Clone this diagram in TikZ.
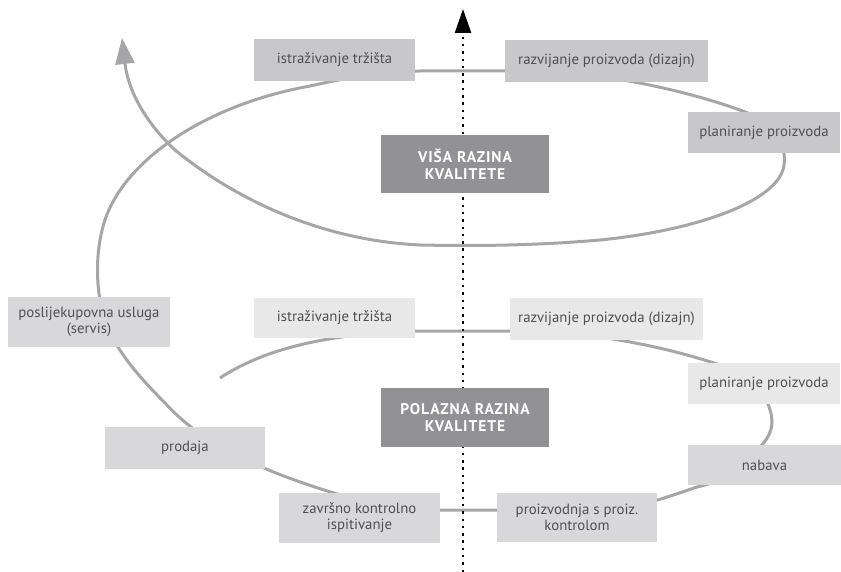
\documentclass[tikz,border=0pt]{standalone}
\usepackage{fontspec}
\setmainfont{PT Sans}
\usetikzlibrary{arrows.meta,backgrounds}

\definecolor{spiral}{HTML}{A6A6A8}
\definecolor{boxtop}{HTML}{C8C8CA}
\definecolor{boxlight}{HTML}{E8E8E9}
\definecolor{boxmid}{HTML}{D8D8DA}
\definecolor{boxdark}{HTML}{929294}
\definecolor{txt}{HTML}{505052}

\tikzset{
  stage/.style={inner sep=0pt, align=center, text=txt,
    font=\fontsize{14.8}{16}\selectfont},
  level/.style={fill=boxdark, inner sep=0pt, align=center, text=white,
    font=\fontsize{15.5}{17}\selectfont\bfseries\addfontfeature{LetterSpace=6}},
  topbox/.style={stage, fill=boxtop},
  lightbox/.style={stage, fill=boxlight},
  midbox/.style={stage, fill=boxmid},
  spiralline/.style={draw=spiral, line width=3pt},
  axisline/.style={draw=black, line width=2.4pt, dash pattern=on 2.4pt off 4.9pt}
}

\begin{document}
\begin{tikzpicture}[x=1pt, y=-1pt]
\useasboundingbox (0,0) rectangle (841,572);

% upper turn of the spiral
\node[topbox, minimum width=161pt, minimum height=42pt] (it1) at (334.5,60) {istraživanje tržišta};
\node[topbox, minimum width=203pt, minimum height=42pt] (rp1) at (606.5,61) {razvijanje proizvoda (dizajn)};
\node[topbox, minimum width=152pt, minimum height=41pt] (pp1) at (764,132.5) {planiranje proizvoda};
\node[level, minimum width=168pt, minimum height=58pt] (vrk) at (465,164) {VIŠA RAZINA\\KVALITETE};

% lower turn of the spiral
\node[lightbox, minimum width=161pt, minimum height=40pt] (it2) at (334.5,318) {istraživanje tržišta};
\node[lightbox, minimum width=193pt, minimum height=42pt] (rp2) at (606.5,319) {razvijanje proizvoda (dizajn)};
\node[lightbox, minimum width=152pt, minimum height=41pt] (pp2) at (764,383.5) {planiranje proizvoda};
\node[midbox, minimum width=153pt, minimum height=40pt] (nab) at (764.5,465) {nabava};
\node[midbox, minimum width=160pt, minimum height=49pt] (pro) at (577,517.5) {proizvodnja s proiz.\\kontrolom};
\node[midbox, minimum width=161pt, minimum height=50pt] (zav) at (359.5,518) {završno kontrolno\\ispitivanje};
\node[midbox, minimum width=160pt, minimum height=42pt] (prd) at (185,448) {prodaja};
\node[midbox, minimum width=162pt, minimum height=50pt] (pos) at (89,322) {poslijekupovna usluga\\(servis)};
\node[level, minimum width=168pt, minimum height=59pt] (prk) at (465,417.5) {POLAZNA RAZINA\\KVALITETE};

% spiral way-points
\coordinate (s0) at (220,378);
\coordinate (tip) at (122,38);
\coordinate (axbot) at (463,572);
\coordinate (axtop) at (463,9);

\begin{scope}[on background layer]
  \path[spiralline, -{Triangle[length=26pt,width=19pt]}]
    (s0) .. controls (270,345) and (340,333) .. (420,331)
    -- (520,331)
    .. controls (590,332) and (660,345) .. (720,365)
    .. controls (745,375) and (765,390) .. (770,410)
    .. controls (775,425) and (770,437) .. (760,447)
    .. controls (745,470) and (720,482) .. (697,487)
    .. controls (670,496) and (640,508) .. (600,510)
    -- (400,510)
    .. controls (340,497) and (290,480) .. (250,462)
    .. controls (215,445) and (190,430) .. (165,403)
    .. controls (140,378) and (115,350) .. (105,320)
    .. controls (95,290) and (95,250) .. (105,220)
    .. controls (125,160) and (205,105) .. (310,86)
    .. controls (350,77) and (385,71) .. (420,71)
    -- (540,71)
    .. controls (600,72) and (700,92) .. (760,118)
    .. controls (780,130) and (786,150) .. (784,165)
    .. controls (780,200) and (700,230) .. (600,240)
    .. controls (530,246) and (470,246) .. (420,245)
    .. controls (315,240) and (230,195) .. (175,150)
    .. controls (145,122) and (128,90) .. (tip);
  \path[axisline, -{Triangle[length=24pt,width=16pt]}] (axbot) -- (axtop);
\end{scope}
\end{tikzpicture}
\end{document}
